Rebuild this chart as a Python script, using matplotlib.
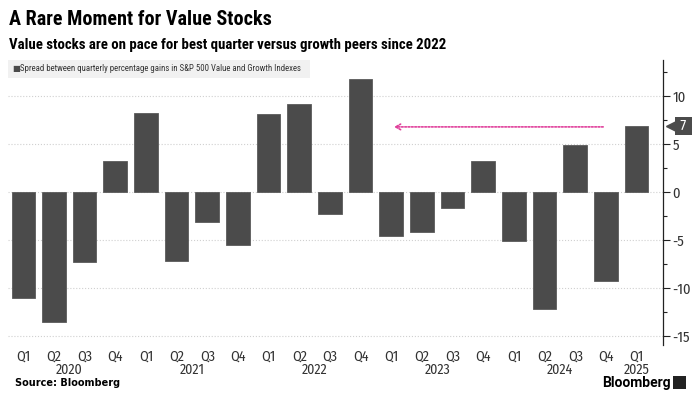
import matplotlib.pyplot as plt
from matplotlib.ticker import MultipleLocator
from matplotlib.transforms import blended_transform_factory

plt.rcParams['font.family'] = ['Fira Sans Condensed', 'DejaVu Sans']
plt.rcParams['axes.unicode_minus'] = False

# quarterly spread, S&P 500 Value minus Growth (percentage points)
quarters = ['Q1', 'Q2', 'Q3', 'Q4'] * 5 + ['Q1']
years = ['2020', '2021', '2022', '2023', '2024', '2025']
spread = [-11.0, -13.5, -7.3, 3.3,
          8.2, -7.2, -3.1, -5.5,
          8.1, 9.2, -2.3, 11.8,
          -4.6, -4.1, -1.6, 3.3,
          -5.1, -12.1, 4.9, -9.2,
          6.9]
latest_label = '7'
arrow_from, arrow_to = 19, 12

bar_color = '#4b4b4b'
grid_color = '#d0d0d0'
text_color = '#333333'
title_font = ['Roboto Condensed', 'DejaVu Sans']

fig = plt.figure(figsize=(7, 3.98), dpi=100)
ax = fig.add_axes([0.0114, 0.133, 0.9357, 0.716])

x = list(range(len(spread)))
ax.bar(x, spread, width=0.77, color=bar_color, edgecolor='#5a5a5a', linewidth=0.6, zorder=3)

ax.set_xlim(-0.5, len(spread) - 0.14)
ax.set_ylim(-15.9, 13.75)

# axes styling
for side in ['top', 'left', 'bottom']:
    ax.spines[side].set_visible(False)
ax.spines['right'].set_color('#222222')
ax.spines['right'].set_linewidth(0.9)

ax.yaxis.tick_right()
ax.yaxis.set_major_locator(MultipleLocator(5))
ax.yaxis.set_minor_locator(MultipleLocator(2.5))
ax.tick_params(axis='y', which='major', length=5, width=0.8, color='#222222',
               labelsize=10.5, labelcolor=text_color, pad=2)
ax.tick_params(axis='y', which='minor', length=3, width=0.8, color='#222222')

ax.set_xticks(x)
ax.set_xticklabels(quarters)
ax.set_xticks([3, 7, 11, 15, 19], minor=True)
ax.tick_params(axis='x', which='both', length=0, labelsize=10, labelcolor=text_color, pad=3)

ax.grid(axis='y', which='major', color=grid_color, linestyle=':', linewidth=0.8, zorder=0)
ax.grid(axis='x', which='minor', color=grid_color, linestyle=':', linewidth=0.8, zorder=0)

# year labels under the quarters
trans = blended_transform_factory(ax.transData, ax.transAxes)
for i, yr in enumerate(years):
    pos = i * 4 + 1.5 if i < len(years) - 1 else i * 4
    ax.text(pos, -0.087, yr, transform=trans, ha='center', va='center',
            fontsize=10, color=text_color)

# dotted arrow back to last comparable quarter
ax.annotate('', xy=(arrow_to, spread[-1] - 0.1), xytext=(arrow_from, spread[-1] - 0.1),
            arrowprops=dict(arrowstyle='->,head_length=0.35,head_width=0.2',
                            color='#e0409b', linestyle=(0, (1, 1)), lw=1.2),
            zorder=4)

# latest value tag on the axis
ty = blended_transform_factory(ax.transAxes, ax.transData)
ax.plot([1.012], [spread[-1]], marker='<', markersize=7.5, color=bar_color,
        transform=ty, clip_on=False)
ax.text(1.022, spread[-1], ' ' + latest_label + ' ', transform=ty, ha='left', va='center',
        fontsize=10.5, color='white',
        bbox=dict(boxstyle='square,pad=0.15', fc=bar_color, ec='none'))

# legend strip
fig.patches.append(plt.Rectangle((0.0114, 0.805), 0.432, 0.045, transform=fig.transFigure,
                                 facecolor='#f1f1f1', edgecolor='none', zorder=0))
fig.text(0.017, 0.828, '\u25a0', fontsize=6, color=bar_color, va='center',
         family='DejaVu Sans')
fig.text(0.029, 0.828, 'Spread between quarterly percentage gains in S&P 500 Value and Growth Indexes',
         fontsize=6.3, color=text_color, va='center', family=title_font)

# titles and footer
fig.text(0.013, 0.952, 'A Rare Moment for Value Stocks', fontsize=14.5, fontweight='bold',
         color='black', va='center', family=title_font)
fig.text(0.013, 0.888, 'Value stocks are on pace for best quarter versus growth peers since 2022',
         fontsize=10.7, fontweight='bold', color='black', va='center', family=title_font)
fig.text(0.021, 0.037, 'Source: Bloomberg', fontsize=7, fontweight='bold',
         color='black', va='center', family='DejaVu Sans')
fig.text(0.958, 0.038, 'Bloomberg', fontsize=10, fontweight='bold', color='black',
         va='center', ha='right', family=['Roboto', 'DejaVu Sans'])
fig.patches.append(plt.Rectangle((0.962, 0.022), 0.018, 0.033, transform=fig.transFigure,
                                 facecolor='#222222', edgecolor='none'))

fig.savefig('out.png', dpi=100)
